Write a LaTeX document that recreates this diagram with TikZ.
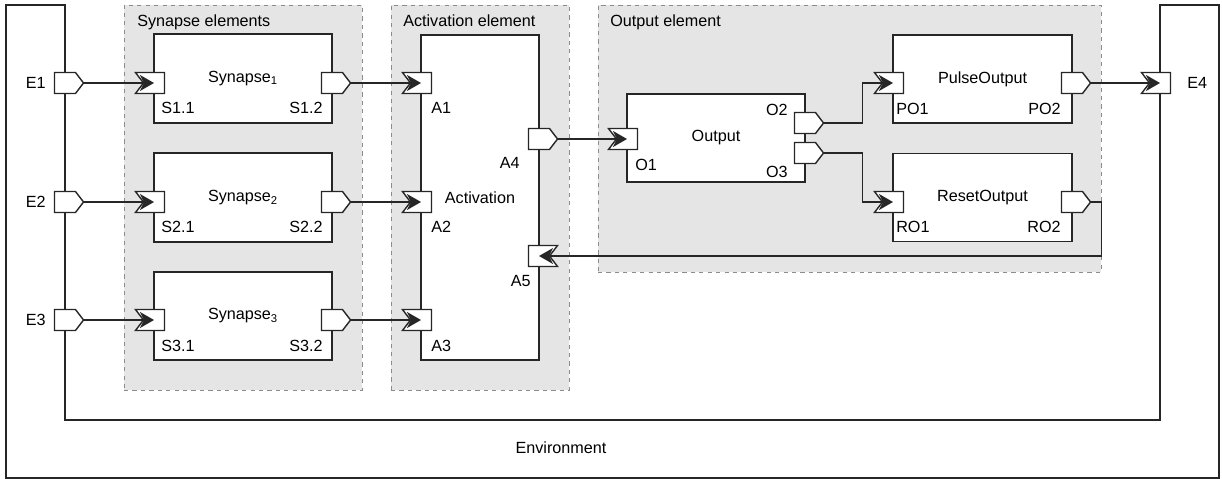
\documentclass[tikz,border=0pt]{standalone}
\usepackage{fontspec}
\setmainfont{Liberation Sans}
\usetikzlibrary{shapes.symbols,arrows.meta,positioning}

\tikzset{
	element/.style={draw=black!45, dashed, fill=black!10, line width=0.6pt},
	block/.style={draw=black!85, fill=white, line width=1.1pt, inner sep=0pt, font=\fontsize{11.5}{13}\selectfont},
	outport/.style={signal, signal to=east, signal pointer angle=105, draw=black!85, fill=white, line width=1pt, minimum width=0.725cm, minimum height=0.525cm, inner sep=0pt},
	inport/.style={outport, signal to=nowhere, signal from=west},
	backport/.style={outport, signal to=nowhere, signal from=east},
	flow/.style={draw=black!85, line width=1pt, -{Stealth[length=0.35cm,width=0.4cm,inset=0.1cm]}},
	lbl/.style={inner sep=0pt, font=\fontsize{11.5}{13}\selectfont},
}

\begin{document}
\begin{tikzpicture}[x=0.025cm, y=-0.025cm]
			%%%%% FRAME %%%%%
			\useasboundingbox (0, 0) rectangle (1222, 479);
			
			\draw[black!85, line width=1.1pt] (6, 5) -- (65, 5) -- (65, 420) -- (1160, 420) -- (1160, 5) -- (1219, 5) -- (1219, 478) -- (6, 478) -- cycle;
			\node[lbl] (envlbl) at (561, 448) {Environment};
			
			%%%%% ELEMENTS %%%%%
			\node[element, minimum width=5.95cm, minimum height=9.625cm] (synel) at (243, 197.5) {};
			\node[element, minimum width=4.45cm, minimum height=9.625cm] (actel) at (480, 197.5) {};
			\node[element, minimum width=12.575cm, minimum height=6.675cm] (outel) at (849.5, 138.5) {};
			
			\node[lbl, anchor=west] (syntitle) at (137, 22) {Synapse elements};
			\node[lbl, anchor=west] (acttitle) at (403, 21) {Activation element};
			\node[lbl, anchor=west] (outtitle) at (610, 22) {Output element};
			
			%%%%% BLOCKS %%%%%
			\node[block, minimum width=4.45cm, minimum height=2.225cm] (syn1) at (243, 78.5) {Synapse\textsubscript{1}};
			\node[block, minimum width=4.45cm, minimum height=2.225cm] (syn2) at (243, 197.5) {Synapse\textsubscript{2}};
			\node[block, minimum width=4.45cm, minimum height=2.2cm] (syn3) at (243, 316) {Synapse\textsubscript{3}};
			\node[block, minimum width=2.95cm, minimum height=8.125cm] (act) at (480, 197.5) {Activation};
			\node[block, minimum width=4.45cm, minimum height=2.2cm] (outp) at (716, 138) {Output};
			\node[block, minimum width=4.475cm, minimum height=2.2cm] (pulse) at (982.5, 79) {PulseOutput};
			\node[block, minimum width=4.475cm, minimum height=2.2cm] (reset) at (982.5, 197.5) {ResetOutput};
			
			%%%%% PORTS %%%%%
			\node[outport] (e1) at (65, 83) {};
			\node[outport] (e2) at (65, 202) {};
			\node[outport] (e3) at (65, 320) {};
			\node[inport] (e4) at (1160, 83) {};
			
			\node[inport] (s11) at (154, 83) {};
			\node[outport] (s12) at (332, 83) {};
			\node[inport] (s21) at (154, 202) {};
			\node[outport] (s22) at (332, 202) {};
			\node[inport] (s31) at (154, 320) {};
			\node[outport] (s32) at (332, 320) {};
			
			\node[inport] (a1) at (421, 83) {};
			\node[inport] (a2) at (421, 202) {};
			\node[inport] (a3) at (421, 320) {};
			\node[outport] (a4) at (539, 139) {};
			\node[backport] (a5) at (539, 256) {};
			
			\node[inport] (o1) at (627, 139) {};
			\node[outport] (o2) at (805, 123) {};
			\node[outport] (o3) at (805, 153) {};
			
			\node[inport] (po1) at (893, 83) {};
			\node[outport] (po2) at (1072, 83) {};
			\node[inport] (ro1) at (893, 202) {};
			\node[outport] (ro2) at (1072, 202) {};
			
			%%%%% PORT LABELS %%%%%
			\node[lbl, anchor=east] (e1lbl) at (46, 83) {E1};
			\node[lbl, anchor=east] (e2lbl) at (46, 202) {E2};
			\node[lbl, anchor=east] (e3lbl) at (46, 320) {E3};
			\node[lbl, anchor=west] (e4lbl) at (1187, 83) {E4};
			
			\node[lbl, anchor=west] (s11lbl) at (161, 108) {S1.1};
			\node[lbl, anchor=east] (s12lbl) at (323, 108) {S1.2};
			\node[lbl, anchor=west] (s21lbl) at (161, 227) {S2.1};
			\node[lbl, anchor=east] (s22lbl) at (323, 227) {S2.2};
			\node[lbl, anchor=west] (s31lbl) at (161, 346) {S3.1};
			\node[lbl, anchor=east] (s32lbl) at (323, 346) {S3.2};
			
			\node[lbl, anchor=west] (a1lbl) at (431, 108) {A1};
			\node[lbl, anchor=west] (a2lbl) at (431, 227) {A2};
			\node[lbl, anchor=west] (a3lbl) at (431, 346) {A3};
			\node[lbl, anchor=east] (a4lbl) at (520, 163) {A4};
			\node[lbl, anchor=east] (a5lbl) at (531, 281) {A5};
			
			\node[lbl, anchor=west] (o1lbl) at (635, 165) {O1};
			\node[lbl, anchor=east] (o2lbl) at (788, 110) {O2};
			\node[lbl, anchor=east] (o3lbl) at (788, 172) {O3};
			
			\node[lbl, anchor=west] (po1lbl) at (896, 109) {PO1};
			\node[lbl, anchor=east] (po2lbl) at (1061, 109) {PO2};
			\node[lbl, anchor=west] (ro1lbl) at (896, 227) {RO1};
			\node[lbl, anchor=east] (ro2lbl) at (1061, 227) {RO2};
			
			%%%%% CONNECTIONS %%%%%
			\draw[flow] (e1.east) -- (s11.center);
			\draw[flow] (e2.east) -- (s21.center);
			\draw[flow] (e3.east) -- (s31.center);
			
			\draw[flow] (s12.east) -- (a1.center);
			\draw[flow] (s22.east) -- (a2.center);
			\draw[flow] (s32.east) -- (a3.center);
			
			\draw[flow] (a4.east) -- (o1.center);
			\draw[flow] (o2.east) -- ++(38, 0) |- (po1.center);
			\draw[flow] (o3.east) -- ++(38, 0) |- (ro1.center);
			\draw[flow] (po2.east) -- (e4.center);
			\draw[flow] (ro2.east) -| (outel.east |- a5.center) -- (a5.center);
			
		\end{tikzpicture}
\end{document}
